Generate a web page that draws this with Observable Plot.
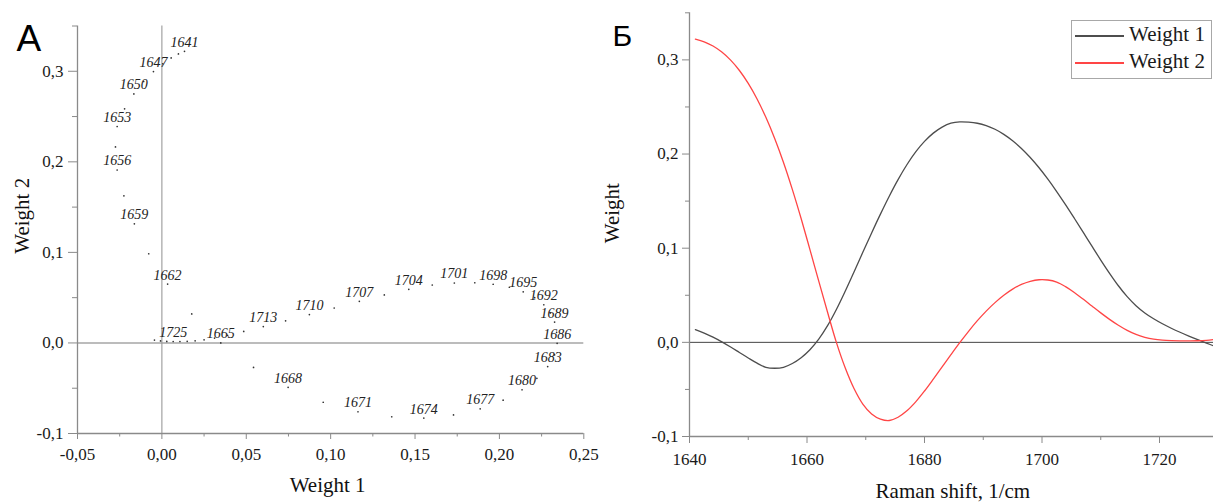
<!DOCTYPE html>
<html><head><meta charset="utf-8">
<script src="https://cdn.jsdelivr.net/npm/d3@7"></script>
<script src="https://cdn.jsdelivr.net/npm/@observablehq/plot@0.6"></script>
<style>
html,body{margin:0;padding:0;background:#fff;}
#root{position:relative;width:1213px;height:502px;overflow:hidden;background:#fff;font-family:"Liberation Serif",serif;}
#root svg, #root svg text{font-family:"Liberation Serif","Times New Roman",serif !important;}
.panel{position:absolute;top:0;}
.letter{position:absolute;font-family:"Liberation Sans",Arial,sans-serif;color:#000;line-height:1;white-space:nowrap;}
#legend{position:absolute;left:1071px;top:20px;width:139px;height:57px;border:1px solid #a8a8a8;background:#fff;}
#legend .sw{position:absolute;left:3px;width:49px;height:1.5px;}
#legend .lt{position:absolute;left:57px;font-family:"Liberation Serif",serif;font-size:21px;line-height:21px;color:#1a1a1a;white-space:nowrap;}
</style></head><body><div id="root"></div>
<script>
// ---- data ----
const shift = [1641,1642.5,1644,1645.5,1647,1648.5,1650,1651.5,1653,1654.5,1656,1657.5,1659,1660.5,1662,1663.5,1665,1666.5,1668,1669.5,1671,1672.5,1674,1675.5,1677,1678.5,1680,1681.5,1683,1684.5,1686,1687.5,1689,1690.5,1692,1693.5,1695,1696.5,1698,1699.5,1701,1702.5,1704,1705.5,1707,1708.5,1710,1711.5,1713,1714.5,1716,1717.5,1719,1720.5,1722,1723.5,1725,1726.5,1728,1729.5];
const weight1 = [0.0134,0.0098,0.0055,0.0005,-0.0050,-0.0108,-0.0166,-0.0221,-0.0265,-0.0275,-0.0265,-0.0225,-0.0163,-0.0078,0.0034,0.0177,0.0349,0.0543,0.0748,0.0956,0.1162,0.1362,0.1552,0.1728,0.1886,0.2022,0.2134,0.2222,0.2286,0.2327,0.2342,0.2339,0.2327,0.2302,0.2263,0.2209,0.2141,0.2059,0.1963,0.1854,0.1733,0.1602,0.1463,0.1318,0.1170,0.1021,0.0874,0.0733,0.0601,0.0485,0.0389,0.0312,0.0250,0.0197,0.0150,0.0107,0.0067,0.0029,-0.0008,-0.0044];
const weight2 = [0.3220,0.3192,0.3147,0.3083,0.2997,0.2887,0.2750,0.2585,0.2390,0.2165,0.1910,0.1625,0.1315,0.0985,0.0650,0.0320,0.0000,-0.0270,-0.0490,-0.0655,-0.0760,-0.0815,-0.0830,-0.0795,-0.0727,-0.0632,-0.0517,-0.0391,-0.0261,-0.0131,-0.0004,0.0117,0.0230,0.0332,0.0422,0.0500,0.0565,0.0615,0.0648,0.0665,0.0662,0.0640,0.0592,0.0530,0.0460,0.0386,0.0313,0.0244,0.0181,0.0127,0.0084,0.0054,0.0034,0.0023,0.0018,0.0016,0.0016,0.0017,0.0022,0.0032];
const labeledShifts = [1641,1647,1650,1653,1656,1659,1662,1665,1668,1671,1674,1677,1680,1683,1686,1689,1692,1695,1698,1701,1704,1707,1710,1713,1725];
const leftXTicks = [-0.05,0,0.05,0.10,0.15,0.20,0.25];
const leftXMinor = [-0.025,0.025,0.075,0.125,0.175,0.225];
const yTicks = [-0.1,0,0.1,0.2,0.3];
const yMinor = [-0.05,0.05,0.15,0.25,0.35];
const rightXTicks = [1640,1660,1680,1700,1720];
const rightXMinor = [1650,1670,1690,1710,1730];
const seriesNames = ["Weight 1","Weight 2"];
const seriesColors = ["#4d4d4d","#ff4545"];
const panelLetters = ["А","Б"];
const leftXLabel = "Weight 1", leftYLabel = "Weight 2";
const rightXLabel = "Raman shift, 1/cm", rightYLabel = "Weight";

// ---- helpers ----
const loc = d3.formatLocale({decimal:",", thousands:"", grouping:[3], currency:["",""], minus:"-"});
const fmt1 = loc.format(".1f"), fmt2 = loc.format(".2f"), fmt0 = d3.format("d");
const blank = () => "";
const axisCol = "#8a8a8a";
const serif = '"Liberation Serif", "Times New Roman", serif';
const baseStyle = {fontFamily:serif, fontSize:"17px", background:"transparent", color:"#1a1a1a", overflow:"visible"};
const root = document.getElementById("root");

const pts = shift.map((s,i)=>({shift:s, w1:weight1[i], w2:weight2[i], label: labeledShifts.includes(s) ? String(s) : null}));

// ---- left panel: Weight 1 vs Weight 2 ----
const left = Plot.plot({
  width:600, height:502, marginLeft:77, marginRight:16.7, marginTop:25.5, marginBottom:69,
  style: baseStyle,
  x:{domain:[-0.05,0.25]}, y:{domain:[-0.1,0.35]},
  marks:[
    Plot.ruleY([0], {stroke:"#7a7a7a", strokeWidth:1.1}),
    Plot.ruleX([0], {stroke:"#999", strokeWidth:1.1}),
    Plot.ruleY([-0.1], {stroke:axisCol, strokeWidth:1.3}),
    Plot.ruleX([-0.05], {stroke:axisCol, strokeWidth:1.3}),
    Plot.axisX(leftXMinor, {tickSize:3.5, tickFormat:blank, stroke:axisCol, label:null}),
    Plot.axisX(leftXTicks, {tickSize:6, tickPadding:8, tickFormat:fmt2, stroke:axisCol, fill:"#1a1a1a", fontFamily:serif, fontSize:17, label:null}),
    Plot.axisY(yMinor, {tickSize:5, tickFormat:blank, stroke:axisCol, label:null}),
    Plot.axisY(yTicks, {tickSize:9, tickPadding:5, tickFormat:fmt1, stroke:axisCol, fill:"#1a1a1a", fontFamily:serif, fontSize:17, label:null}),
    Plot.dot(pts, {x:"w1", y:"w2", r:0.85, fill:"#333", stroke:null}),
    Plot.text(pts.filter(d=>d.label), {x:"w1", y:"w2", text:"label", dy:-9, fontStyle:"italic", fontSize:14, fill:"#222"}),
    Plot.text([leftXLabel], {text:d=>d, frameAnchor:"bottom", lineAnchor:"middle", textAnchor:"middle", dy:52, dx:-3, fontSize:21, fill:"#111"}),
    Plot.text([leftYLabel], {text:d=>d, frameAnchor:"left", lineAnchor:"middle", textAnchor:"middle", dx:-55, dy:-14, rotate:-90, fontSize:21, fill:"#111"})
  ]
});
left.classList.add("panel"); left.style.left = "0px";
root.appendChild(left);

// ---- right panel: weights vs Raman shift ----
const seriesData = [];
seriesNames.forEach((name,j)=>{
  const vals = j === 0 ? weight1 : weight2;
  shift.forEach((s,i)=>seriesData.push({shift:s, w:vals[i], series:name}));
});
const right = Plot.plot({
  width:620, height:502, marginLeft:89, marginRight:2.25, marginTop:12.3, marginBottom:66,
  style: baseStyle,
  x:{domain:[1640,1730]}, y:{domain:[-0.1,0.35]},
  color:{domain:seriesNames, range:seriesColors},
  marks:[
    Plot.ruleY([0], {stroke:"#444", strokeWidth:1}),
    Plot.ruleY([-0.1], {stroke:axisCol, strokeWidth:1.3}),
    Plot.ruleX([1640], {stroke:axisCol, strokeWidth:1.3}),
    Plot.axisX(rightXMinor, {tickSize:4, tickFormat:blank, stroke:axisCol, label:null}),
    Plot.axisX(rightXTicks, {tickSize:7, tickPadding:9, tickFormat:fmt0, stroke:axisCol, fill:"#1a1a1a", fontFamily:serif, fontSize:17, label:null}),
    Plot.axisY(yMinor, {tickSize:4, tickFormat:blank, stroke:axisCol, label:null}),
    Plot.axisY(yTicks, {tickSize:7, tickPadding:4, tickFormat:fmt1, stroke:axisCol, fill:"#1a1a1a", fontFamily:serif, fontSize:17, label:null}),
    Plot.line(seriesData, {x:"shift", y:"w", z:"series", stroke:"series", strokeWidth:1.3, curve:"catmull-rom"}),
    Plot.text([rightXLabel], {text:d=>d, frameAnchor:"bottom", lineAnchor:"middle", textAnchor:"middle", dy:55, dx:-1, fontSize:21, fill:"#111"}),
    Plot.text([rightYLabel], {text:d=>d, frameAnchor:"left", lineAnchor:"middle", textAnchor:"middle", dx:-77, dy:-11.5, rotate:-90, fontSize:21, fill:"#111"})
  ]
});
right.classList.add("panel"); right.style.left = "600px";
root.appendChild(right);

// ---- panel letters ----
[[panelLetters[0], 16.5, 20.2, 37], [panelLetters[1], 612.6, 21, 30]].forEach(([t,x,y,s])=>{
  const d = document.createElement("div");
  d.className = "letter"; d.textContent = t;
  d.style.left = x+"px"; d.style.top = y+"px"; d.style.fontSize = s+"px";
  root.appendChild(d);
});

// ---- legend ----
const lg = document.createElement("div"); lg.id = "legend";
seriesNames.forEach((name,j)=>{
  const sw = document.createElement("div"); sw.className = "sw";
  sw.style.top = (j === 0 ? 14 : 41) + "px"; sw.style.background = seriesColors[j];
  const lt = document.createElement("div"); lt.className = "lt";
  lt.style.top = (j === 0 ? 3.4 : 30.4) + "px"; lt.textContent = name;
  lg.appendChild(sw); lg.appendChild(lt);
});
root.appendChild(lg);
</script>
</body></html>
